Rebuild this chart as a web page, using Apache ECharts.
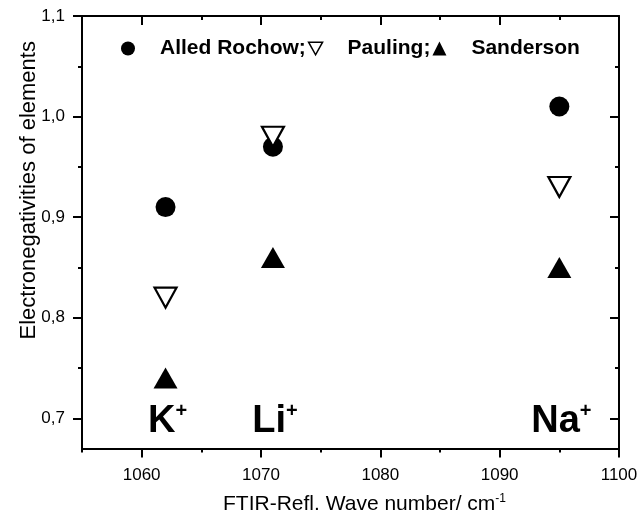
<!DOCTYPE html>
<html>
<head>
<meta charset="utf-8">
<script src="https://cdn.jsdelivr.net/npm/echarts@6/dist/echarts.min.js"></script>
<style>
html,body{margin:0;padding:0;background:#fff;}
#main{width:643px;height:520px;}
</style>
</head>
<body>
<div id="main"></div>
<script>
// Data
const ions = ['K', 'Li', 'Na'];
const wavenumbers = [1062, 1071, 1095];
const alledRochow = [0.91, 0.97, 1.01];
const pauling = [0.82, 0.98, 0.93];
const sanderson = [0.74, 0.86, 0.85];
const ionLabelY = [0.70, 0.70, 0.70];
const xTicks = [1060, 1070, 1080, 1090, 1100];
const yTicks = [0.7, 0.8, 0.9, 1.0, 1.1];
const yMinorTicks = [0.75, 0.85, 0.95, 1.05];
const xMinorTicks = [1055, 1065, 1075, 1085, 1095];

const FONT = 'Liberation Sans, Arial, Helvetica, sans-serif';
const chart = echarts.init(document.getElementById('main'));

function pts(vals) { return wavenumbers.map((x, i) => [x, vals[i]]); }

const axisLineStyle = { color: '#000', width: 2 };
const tickStyle = { width: 2, color: '#000' };
function plainX(opts) {
  return Object.assign({
    type: 'value', min: 1055, max: 1100, interval: 5,
    axisLine: { show: false }, axisLabel: { show: false }, splitLine: { show: false }
  }, opts);
}
function plainY(opts) {
  return Object.assign({
    type: 'value', min: 0.67, max: 1.1,
    axisLine: { show: false }, axisLabel: { show: false }, splitLine: { show: false }
  }, opts);
}
const legendText = { fontFamily: FONT, fontWeight: 'bold', fontSize: 21, color: '#000' };
const option = {
  animation: false,
  backgroundColor: '#fff',
  grid: { left: 82, right: 24, top: 16, bottom: 70 },
  legend: {
    left: 116, top: 33,
    itemWidth: 14, itemHeight: 14, itemGap: 2,
    textStyle: Object.assign({ padding: [0, 0, 0, 20] }, legendText),
    data: [
      { name: 'Alled Rochow;', icon: 'circle' },
      { name: 'Pauling;', icon: 'path://M0,0L20,0L10,18Z',
        itemStyle: { color: '#fff', borderColor: '#000', borderWidth: 1.5 },
        textStyle: Object.assign({ padding: [0, 5, 0, 20] }, legendText) },
      { name: 'Sanderson', icon: 'triangle' }
    ]
  },
  xAxis: [{
    type: 'value', min: 1055, max: 1100, interval: 5,
    name: 'FTIR-Refl. Wave number/ cm{sup|-1}',
    nameLocation: 'middle', nameGap: 44,
    nameTextStyle: { fontFamily: FONT, fontSize: 21, color: '#000', padding: [0, 0, 0, 28],
      rich: { sup: { fontFamily: FONT, fontSize: 12, color: '#000', verticalAlign: 'top', padding: [0, 0, 12, 0] } } },
    axisLine: { onZero: false, lineStyle: axisLineStyle },
    axisTick: { show: true, inside: false, length: 9, lineStyle: tickStyle, customValues: xTicks },
    axisLabel: { margin: 18, fontFamily: FONT, fontSize: 17, color: '#000',
      customValues: xTicks, formatter: v => String(v) },
    splitLine: { show: false }
  },
  plainX({ position: 'top', axisLine: { onZero: false, lineStyle: axisLineStyle },
    axisTick: { show: true, inside: true, length: 9, lineStyle: tickStyle, customValues: xTicks } }),
  plainX({ position: 'bottom',
    axisTick: { show: true, inside: false, length: 4, lineStyle: tickStyle, customValues: xMinorTicks } }),
  plainX({ position: 'top',
    axisTick: { show: true, inside: true, length: 4, lineStyle: tickStyle, customValues: xMinorTicks } })
  ],
  yAxis: [{
    type: 'value', min: 0.67, max: 1.1,
    name: 'Electronegativities of elements',
    nameLocation: 'middle', nameGap: 42, nameRotate: 90, nameMoveOverlap: false,
    nameTextStyle: { fontFamily: FONT, fontSize: 22, color: '#000', padding: [0, 0, 0, 84] },
    axisLine: { onZero: false, lineStyle: axisLineStyle },
    axisTick: { show: true, inside: false, length: 9, lineStyle: tickStyle, customValues: yTicks },
    axisLabel: { margin: 17, fontFamily: FONT, fontSize: 17, color: '#000', customValues: yTicks,
      formatter: v => v.toFixed(1).replace('.', ',') },
    splitLine: { show: false }
  },
  plainY({ position: 'right', axisLine: { onZero: false, lineStyle: axisLineStyle },
    axisTick: { show: true, inside: true, length: 9, lineStyle: tickStyle, customValues: yTicks } }),
  plainY({ position: 'left',
    axisTick: { show: true, inside: false, length: 4, lineStyle: tickStyle, customValues: yMinorTicks } }),
  plainY({ position: 'right',
    axisTick: { show: true, inside: true, length: 4, lineStyle: tickStyle, customValues: yMinorTicks } })
  ],
  series: [{
    name: 'Alled Rochow;', type: 'scatter', symbol: 'circle', symbolSize: 20,
    itemStyle: { color: '#000', opacity: 1 },
    data: pts(alledRochow)
  }, {
    name: 'Pauling;', type: 'scatter', symbol: 'triangle', symbolSize: [22, 20], symbolRotate: 180,
    itemStyle: { color: '#fff', borderColor: '#000', borderWidth: 2.2, opacity: 1 },
    data: pts(pauling)
  }, {
    name: 'Sanderson', type: 'scatter', symbol: 'triangle', symbolSize: [24, 21],
    itemStyle: { color: '#000', opacity: 1 },
    data: pts(sanderson)
  }, {
    name: 'ions', type: 'scatter', symbolSize: 0, silent: true,
    itemStyle: { opacity: 1 },
    data: wavenumbers.map((x, i) => ({ value: [x, ionLabelY[i]], name: ions[i] })),
    label: {
      show: true, position: 'inside', offset: [2, 3],
      formatter: p => '{m|' + p.name + '}{s|+}',
      rich: {
        m: { fontFamily: FONT, fontWeight: 'bold', fontSize: 38, color: '#000' },
        s: { fontFamily: FONT, fontWeight: 'bold', fontSize: 20, color: '#000', verticalAlign: 'top', padding: [0, 0, 20, 0] }
      }
    }
  }]
};
chart.setOption(option);
</script>
</body>
</html>
